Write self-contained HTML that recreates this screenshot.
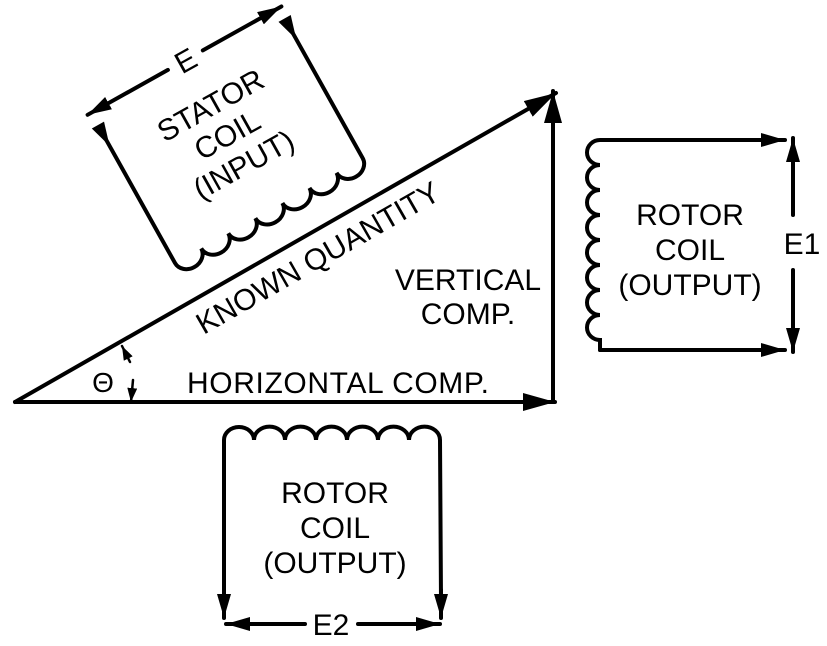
<!DOCTYPE html>
<html><head><style>
html,body{margin:0;padding:0;background:#fff;}
svg{display:block;}
text{font-family:"Liberation Sans",sans-serif;fill:#000;}
</style></head><body>
<svg width="827" height="646" viewBox="0 0 827 646" xmlns="http://www.w3.org/2000/svg">
<defs>
<marker id="ah" viewBox="0 0 24 14" refX="24" refY="7" markerWidth="24" markerHeight="14" markerUnits="userSpaceOnUse" orient="auto">
<path d="M0,0 L24,7 L0,14 Z" fill="#000"/>
</marker>
<marker id="big" viewBox="0 0 32 18" refX="32" refY="9" markerWidth="32" markerHeight="18" markerUnits="userSpaceOnUse" orient="auto">
<path d="M0,0 L32,9 L0,18 Z" fill="#000"/>
</marker>
<marker id="sm" viewBox="0 0 14 10" refX="14" refY="5" markerWidth="14" markerHeight="10" markerUnits="userSpaceOnUse" orient="auto">
<path d="M0,0 L14,5 L0,10 Z" fill="#000"/>
</marker>
</defs>
<g stroke="#000" stroke-width="4" fill="none" stroke-linecap="round">
<!-- triangle -->
<line x1="15" y1="402" x2="555" y2="402" marker-end="url(#big)"/>
<line x1="15" y1="402" x2="556" y2="93" marker-end="url(#big)"/>
<line x1="553" y1="402" x2="553" y2="91" marker-end="url(#big)"/>
<!-- theta arrows -->
<line x1="130" y1="362" x2="122" y2="346" stroke-width="2.5" marker-end="url(#sm)"/>
<line x1="133" y1="380" x2="131" y2="402" stroke-width="2.5" marker-end="url(#sm)"/>
<!-- bottom coil -->
<path d="M224,600 L224,440 a15,13 0 0 1 30,0 a15,13 0 0 1 31,0 a15,13 0 0 1 31,0 a15,13 0 0 1 31,0 a15,13 0 0 1 31,0 a15,13 0 0 1 31,0 a15,13 0 0 1 31,0 L441,600"/>
<line x1="224" y1="590" x2="224" y2="618" marker-end="url(#ah)"/>
<line x1="441" y1="590" x2="441" y2="618" marker-end="url(#ah)"/>
<line x1="305" y1="624" x2="226" y2="624" marker-end="url(#ah)"/>
<line x1="358" y1="624" x2="440" y2="624" marker-end="url(#ah)"/>
<!-- right coil -->
<path d="M660,140 L600,140 a13,12.5 0 0 0 0,25 a13,12.5 0 0 0 0,25 a13,12.5 0 0 0 0,25 a13,12.5 0 0 0 0,25 a13,12.5 0 0 0 0,25 a13,12.5 0 0 0 0,25 a13,12.5 0 0 0 0,25 a13,12.5 0 0 0 0,25 L600,350"/>
<line x1="660" y1="140" x2="785" y2="140" marker-end="url(#ah)"/>
<line x1="600" y1="350" x2="785" y2="350" marker-end="url(#ah)"/>
<line x1="793" y1="215" x2="793" y2="138" marker-end="url(#ah)"/>
<line x1="793" y1="270" x2="793" y2="352" marker-end="url(#ah)"/>
<!-- stator coil -->
<g transform="translate(175,263) rotate(-29.2)">
<path d="M0,-154 L0,0 a15,13 0 0 0 30,0 a15,13 0 0 0 31,0 a15,13 0 0 0 31,0 a15,13 0 0 0 31,0 a15,13 0 0 0 31,0 a15,13 0 0 0 31,0 a15,13 0 0 0 30,0 L215,-156"/>
<path d="M-7,-158 L7,-158 L0,-134 Z" fill="#000" stroke="none"/>
<path d="M208,-160 L222,-160 L215,-136 Z" fill="#000" stroke="none"/>
<line x1="88" y1="-172" x2="-4" y2="-172" marker-end="url(#ah)"/>
<line x1="128" y1="-172" x2="218" y2="-172" marker-end="url(#ah)"/>
<g stroke="none" fill="#000">
<text x="108" y="-161" font-size="30" text-anchor="middle" stroke="none">E</text>
<text x="108" y="-110" font-size="30" text-anchor="middle" stroke="none">STATOR</text>
<text x="108" y="-76" font-size="30" text-anchor="middle" stroke="none">COIL</text>
<text x="108" y="-42" font-size="30" text-anchor="middle" stroke="none">(INPUT)</text>
</g>
</g>
</g>
<text x="318" y="268" font-size="30" text-anchor="middle" transform="rotate(-29.8 318 258)">KNOWN QUANTITY</text>
<text x="338" y="393" font-size="30" text-anchor="middle" textLength="302">HORIZONTAL COMP.</text>
<text x="468" y="290" font-size="30" text-anchor="middle">VERTICAL</text>
<text x="468" y="324" font-size="30" text-anchor="middle">COMP.</text>
<text x="103" y="392" font-size="28" text-anchor="middle">Θ</text>
<text x="690" y="225" font-size="30" text-anchor="middle">ROTOR</text>
<text x="690" y="260" font-size="30" text-anchor="middle">COIL</text>
<text x="690" y="295" font-size="30" text-anchor="middle">(OUTPUT)</text>
<text x="802" y="254" font-size="30" text-anchor="middle">E1</text>
<text x="335" y="503" font-size="30" text-anchor="middle">ROTOR</text>
<text x="335" y="538" font-size="30" text-anchor="middle">COIL</text>
<text x="335" y="573" font-size="30" text-anchor="middle">(OUTPUT)</text>
<text x="331" y="635" font-size="30" text-anchor="middle">E2</text>
</svg>
</body></html>
